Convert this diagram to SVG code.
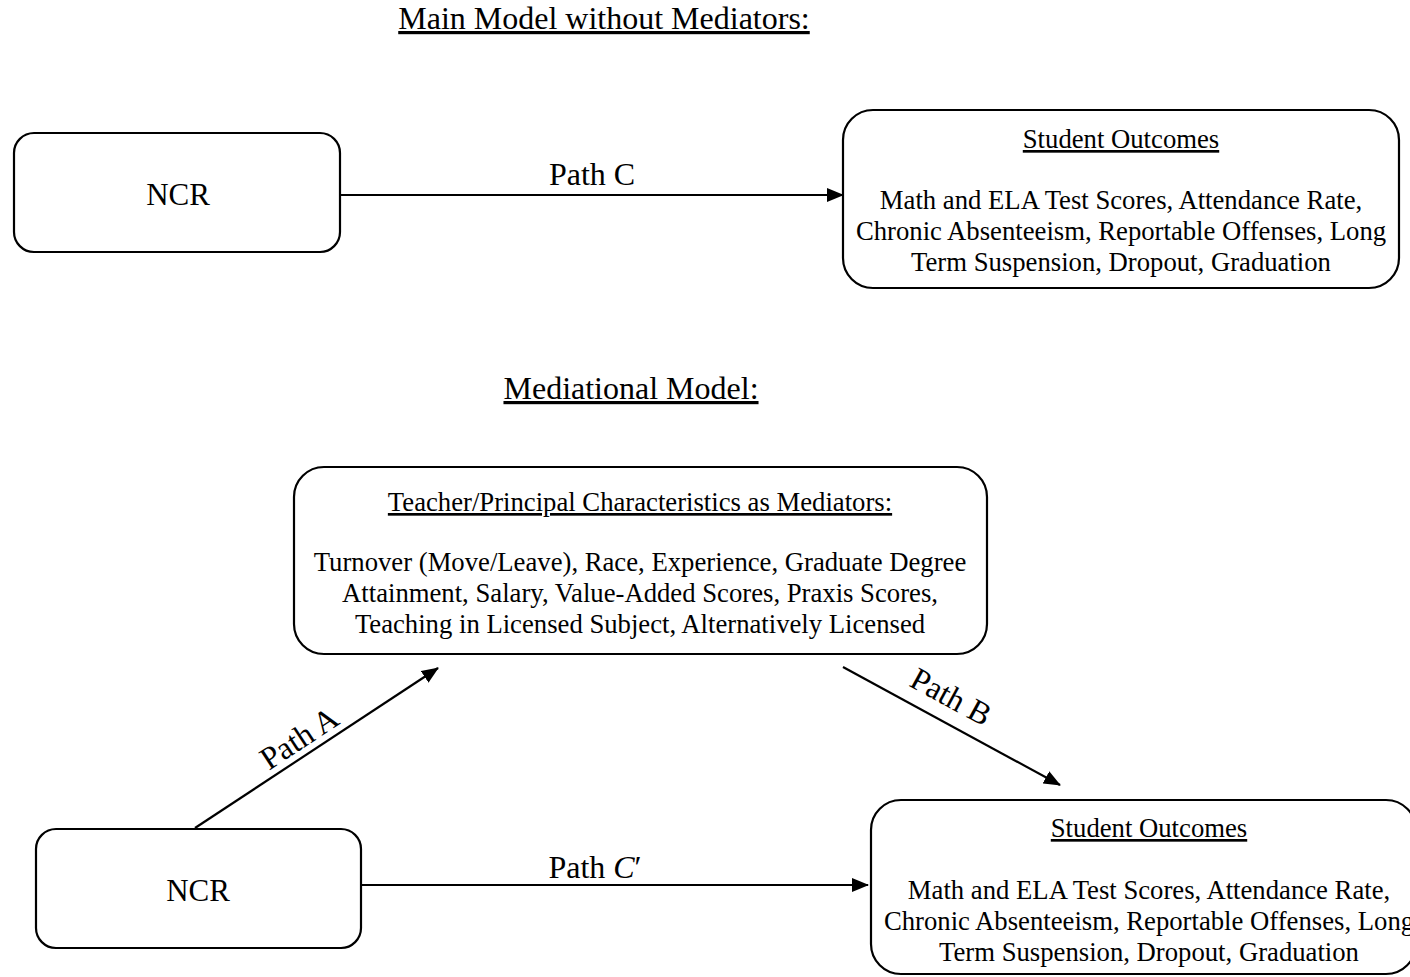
<svg xmlns="http://www.w3.org/2000/svg" width="1410" height="977" viewBox="0 0 1410 977">
<style>
.box{fill:#fff;stroke:#000;stroke-width:2.2}
.t{font-family:"Liberation Serif","Times New Roman",serif;fill:#000;text-anchor:middle}
.body{font-size:26.7px}
.big{font-size:32px}
.ncr{font-size:31px}
.u{text-decoration:underline}
.conn{stroke:#000;stroke-width:2.2;fill:none;marker-end:url(#ah)}
</style>
<defs>
<marker id="ah" markerWidth="17" markerHeight="14" refX="16" refY="7" orient="auto" markerUnits="userSpaceOnUse">
<path d="M0,0 L17,7 L0,14 Z" fill="#000"/>
</marker>
</defs>
<rect width="1410" height="977" fill="#fff"/>
<text class="t big u" x="604" y="29">Main Model without Mediators:</text>
<text class="t big u" x="631" y="399">Mediational Model:</text>

<g id="connectors">
<line class="conn" x1="340" y1="195" x2="843" y2="195"/>
<line class="conn" x1="195" y1="828" x2="438" y2="668"/>
<line class="conn" x1="843" y1="667" x2="1060" y2="785"/>
<line class="conn" x1="361" y1="885" x2="868" y2="885"/>
<text class="t big" x="592" y="185">Path C</text>
<text class="t big" x="595" y="878">Path <tspan font-style="italic">C</tspan>′</text>
<text class="t big" transform="translate(305,747) rotate(-33.4)">Path A</text>
<text class="t big" transform="translate(946,706) rotate(28.5)">Path B</text>
</g>

<g id="ncr-top">
<rect class="box" x="14" y="133" width="326" height="119" rx="20"/>
<text class="t ncr" x="178" y="205">NCR</text>
</g>

<g id="outcomes-top">
<rect class="box" x="843" y="110" width="556" height="178" rx="30"/>
<text class="t body u" x="1121" y="148">Student Outcomes</text>
<text class="t body" x="1121" y="209">Math and ELA Test Scores, Attendance Rate,</text>
<text class="t body" x="1121" y="240">Chronic Absenteeism, Reportable Offenses, Long</text>
<text class="t body" x="1121" y="271">Term Suspension, Dropout, Graduation</text>
</g>

<g id="mediators">
<rect class="box" x="294" y="467" width="693" height="187" rx="30"/>
<text class="t body u" x="640" y="511">Teacher/Principal Characteristics as Mediators:</text>
<text class="t body" x="640" y="571">Turnover (Move/Leave), Race, Experience, Graduate Degree</text>
<text class="t body" x="640" y="602">Attainment, Salary, Value-Added Scores, Praxis Scores,</text>
<text class="t body" x="640" y="633">Teaching in Licensed Subject, Alternatively Licensed</text>
</g>

<g id="ncr-bottom">
<rect class="box" x="36" y="829" width="325" height="119" rx="20"/>
<text class="t ncr" x="198" y="901">NCR</text>
</g>

<g id="outcomes-bottom">
<rect class="box" x="871" y="800" width="545" height="174" rx="30"/>
<text class="t body u" x="1149" y="837">Student Outcomes</text>
<text class="t body" x="1149" y="899">Math and ELA Test Scores, Attendance Rate,</text>
<text class="t body" x="1149" y="930">Chronic Absenteeism, Reportable Offenses, Long</text>
<text class="t body" x="1149" y="961">Term Suspension, Dropout, Graduation</text>
</g>
</svg>
